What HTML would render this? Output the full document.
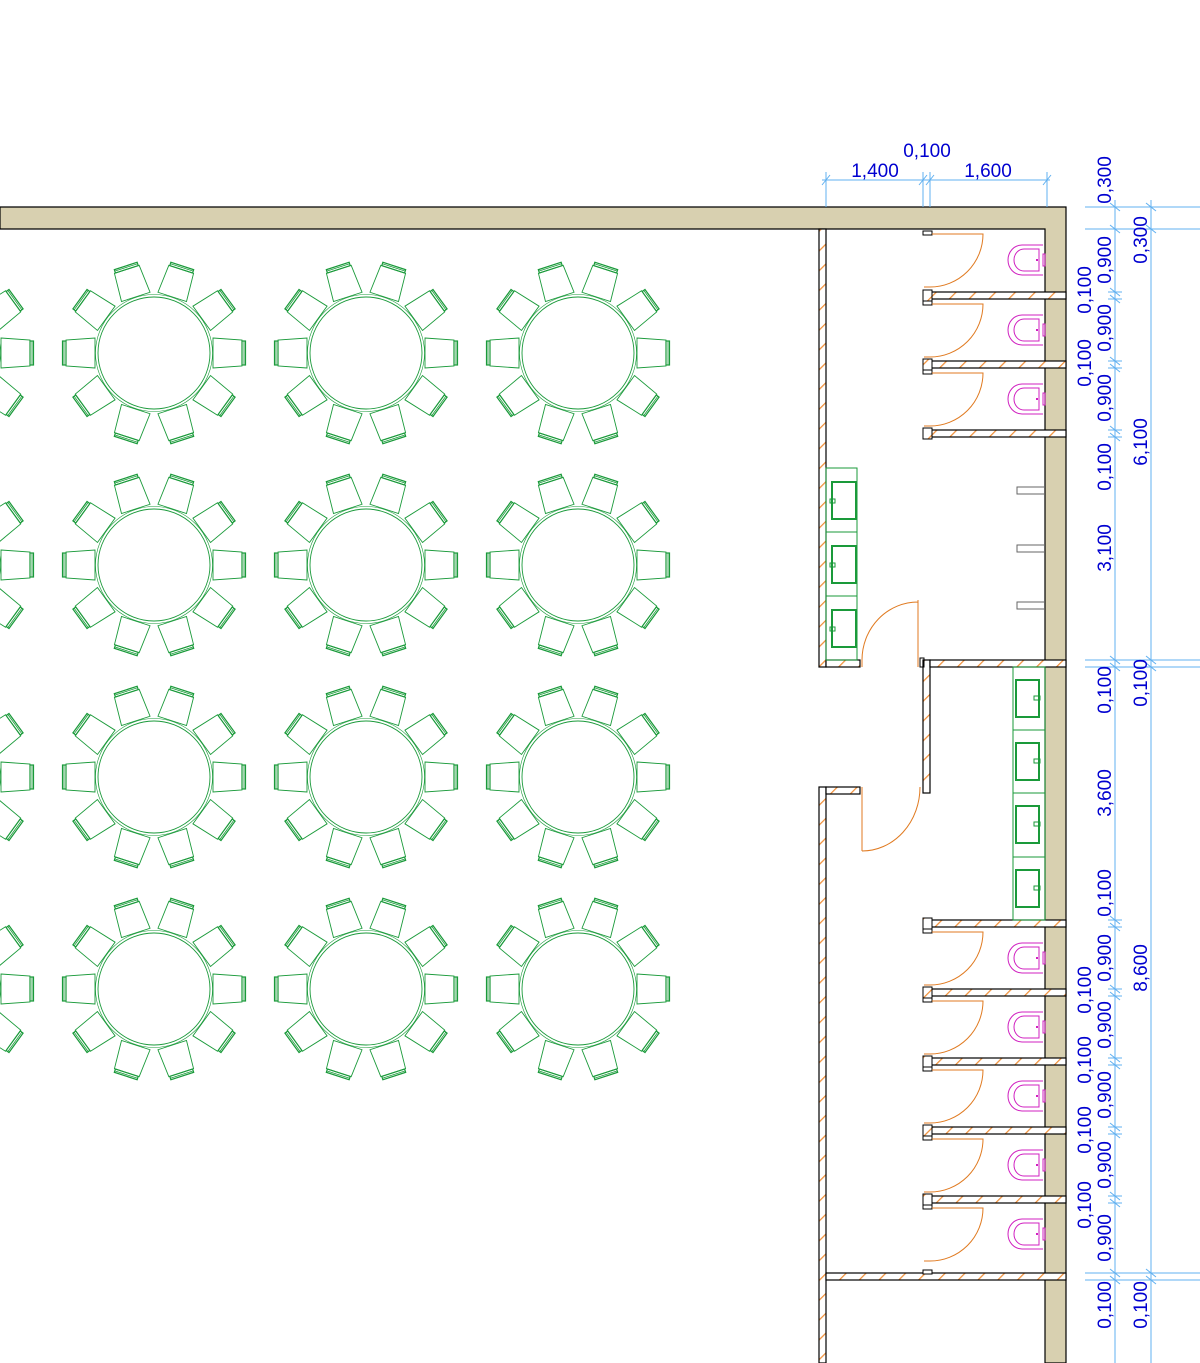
<!DOCTYPE html>
<html><head><meta charset="utf-8"><style>
html,body{margin:0;padding:0;background:#fff;}
svg{display:block;}
text{font-family:"Liberation Sans",sans-serif;font-size:19px;fill:#0000d0;}
</style></head><body>
<svg id="s" width="1200" height="1363" viewBox="0 0 1200 1363" xmlns="http://www.w3.org/2000/svg">
<defs>
<pattern id="h" width="14" height="14" patternUnits="userSpaceOnUse" patternTransform="rotate(45)">
<rect width="14" height="14" fill="#fff"/><line x1="0" y1="0" x2="0" y2="14" stroke="#f0903a" stroke-width="2.5"/>
</pattern>
</defs>
<g id="g"></g>
</svg>
<script>
var o='';
function P(s){o+=s;}
P('<path d="M0 207 H1066 V1363 H1045 V229 H0 Z" fill="#d8d0b0" stroke="#000" stroke-width="1.2"/>');
function hw(x,y,w,h){P('<rect x="'+x+'" y="'+y+'" width="'+w+'" height="'+h+'" fill="url(#h)" stroke="#000" stroke-width="1.2"/>');}
hw(819,229,7,438); hw(826,660,34,7);
hw(819,787,7,576); hw(826,787,34,7);
hw(923,660,7,133); hw(930,660,136,7);
hw(826,1273,240,7);
var G='#1a9a3a';
function tab(cx,cy){
 P('<circle cx="'+cx+'" cy="'+cy+'" r="56" fill="none" stroke="'+G+'" stroke-width="0.9"/>');
 P('<circle cx="'+cx+'" cy="'+cy+'" r="58.5" fill="none" stroke="'+G+'" stroke-width="0.6"/>');
 for(var i=0;i<10;i++){
  var a=i*36;
  P('<g transform="translate('+cx+' '+cy+') rotate('+a+')" fill="none" stroke="'+G+'" stroke-width="0.9">'+
   '<path d="M59 -15 L88 -13 L88 13 L59 15 Z"/>'+
   '<rect x="88" y="-12" width="3.5" height="24" stroke-width="1.2"/>'+
   '<line x1="90" y1="-12" x2="90" y2="12" stroke-width="0.8"/></g>');
 }
}
[-58,154,366,578].forEach(function(x){[353,565,777,989].forEach(function(y){tab(x,y);});});
var OR='#e07a20',MG='#d020c0';
function stall(y0){
 P('<rect x="923" y="'+(y0+2)+'" width="9" height="4" fill="#fff" stroke="#000" stroke-width="1"/>');
 P('<path d="M932 '+(y0+5)+' H983 A53 53 0 0 1 930 '+(y0+58)+' H924" fill="none" stroke="'+OR+'" stroke-width="1"/>');
 var c=y0+31;
 P('<path d="M1043 '+(c-15)+' H1022 A14 15 0 0 0 1022 '+(c+15)+' H1043" fill="none" stroke="'+MG+'" stroke-width="1"/>');
 P('<path d="M1039 '+(c-11)+' H1024 A10 11 0 0 0 1024 '+(c+11)+' H1039 Z" fill="none" stroke="'+MG+'" stroke-width="1"/>');
 P('<rect x="1043" y="'+(c-6)+'" width="2" height="12" fill="none" stroke="'+MG+'" stroke-width="1"/>');
 P('<rect x="1036" y="'+(c-1)+'" width="2" height="2" fill="'+MG+'"/>');
}
function part(y){hw(930,y,136,7);P('<rect x="923" y="'+(y-2)+'" width="9" height="11" fill="url(#h)" stroke="#000" stroke-width="1"/>');}
[229,299,368].forEach(stall);
[292,361,430].forEach(part);
[927,996,1065,1134,1203].forEach(stall);
[920,989,1058,1127,1196].forEach(part);
P('<rect x="923" y="1270" width="9" height="4" fill="#fff" stroke="#000" stroke-width="1"/>');
[490,548,605].forEach(function(y){P('<path d="M1045 '+(y-3)+' H1017 V'+(y+4)+' H1045" fill="none" stroke="#666" stroke-width="1"/>');});
P('<rect x="826" y="468" width="31" height="192" fill="none" stroke="'+G+'" stroke-width="1"/>');
[468,532,596].forEach(function(y){
 P('<line x1="826" y1="'+(y+64)+'" x2="857" y2="'+(y+64)+'" stroke="'+G+'"/>');
 P('<rect x="832" y="'+(y+14)+'" width="24" height="37" fill="none" stroke="'+G+'" stroke-width="2"/>');
 P('<rect x="830" y="'+(y+31)+'" width="5" height="4" fill="none" stroke="'+G+'"/>');
});
P('<rect x="1013" y="667" width="32" height="253" fill="none" stroke="'+G+'" stroke-width="1"/>');
[667,730,793,857].forEach(function(y,i){
 if(i>0)P('<line x1="1013" y1="'+y+'" x2="1045" y2="'+y+'" stroke="'+G+'"/>');
 P('<rect x="1016" y="'+(y+13)+'" width="23" height="37" fill="none" stroke="'+G+'" stroke-width="2"/>');
 P('<rect x="1034" y="'+(y+29)+'" width="6" height="4" fill="none" stroke="'+G+'"/>');
});
P('<path d="M918 600 V667 M918 602 A56 58 0 0 0 862 660 V667" fill="none" stroke="'+OR+'" stroke-width="1"/>');
P('<rect x="920" y="658" width="4" height="9" fill="none" stroke="#000"/>');
P('<path d="M862 787 V851 M862 851 A58 64 0 0 0 920 787" fill="none" stroke="'+OR+'" stroke-width="1"/>');
var B='#60b0f0';
function L(x1,y1,x2,y2){P('<line x1="'+x1+'" y1="'+y1+'" x2="'+x2+'" y2="'+y2+'" stroke="'+B+'" stroke-width="1"/>');}
function tk(x,y,v){if(v)L(x-4,y+5,x+4,y-5);else L(x-5,y-4,x+5,y+4);}
L(822,180,1050,180);
[826,923,930,1047].forEach(function(x){L(x,172,x,207);tk(x,180,1);});
P('<text x="875" y="177" text-anchor="middle">1,400</text>');
P('<text x="927" y="157" text-anchor="middle">0,100</text>');
P('<text x="988" y="177" text-anchor="middle">1,600</text>');
L(1115,200,1115,1363); L(1151,200,1151,1363);
[207,229,660,667,1273,1280].forEach(function(y){L(1085,y,1200,y);});
[207,229,292,299,361,368,430,437,660,667,920,927,989,996,1058,1065,1127,1134,1196,1203,1273,1280].forEach(function(y){L(1108,y,1122,y);tk(1115,y,0);});
[207,229,660,667,1273,1280].forEach(function(y){tk(1151,y,0);});
function vt(x,y,s){P('<text transform="translate('+x+' '+y+') rotate(-90)" text-anchor="middle">'+s+'</text>');}
vt(1111,180,'0,300');
[[260,'0,900'],[328,'0,900'],[398,'0,900'],[958,'0,900'],[1025,'0,900'],[1095,'0,900'],[1165,'0,900'],[1238,'0,900']].forEach(function(a){vt(1111,a[0],a[1]);});
[[290,'0,100'],[363,'0,100'],[990,'0,100'],[1060,'0,100'],[1130,'0,100'],[1205,'0,100']].forEach(function(a){vt(1091,a[0],a[1]);});
vt(1111,467,'0,100'); vt(1111,548,'3,100'); vt(1111,690,'0,100'); vt(1111,793,'3,600'); vt(1111,893,'0,100'); vt(1111,1305,'0,100');
vt(1147,240,'0,300'); vt(1147,442,'6,100'); vt(1147,683,'0,100'); vt(1147,968,'8,600'); vt(1147,1305,'0,100');
document.getElementById('g').innerHTML=o;
</script>
</body></html>
